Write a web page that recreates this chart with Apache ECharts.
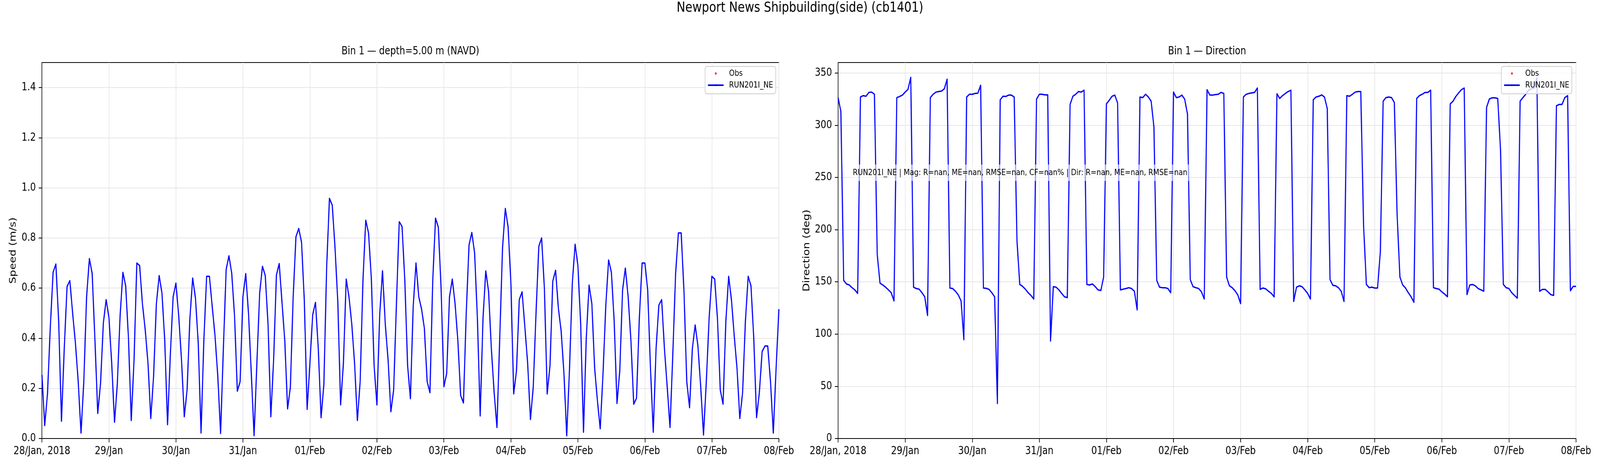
<!DOCTYPE html>
<html>
<head>
<meta charset="utf-8">
<script src="https://cdn.jsdelivr.net/npm/echarts/dist/echarts.min.js"></script>
<style>
html,body{margin:0;padding:0;background:#fff;overflow:hidden}
#c{width:5000px;height:1200px;transform-origin:0 0}
</style>
</head>
<body>
<div id="c"></div>
<script>
// ---- data (hourly samples starting 28 Jan 2018 00:00) ----
const xTickLabels = ['28/Jan, 2018','29/Jan','30/Jan','31/Jan','01/Feb','02/Feb','03/Feb','04/Feb','05/Feb','06/Feb','07/Feb','08/Feb'];
const speedTicks = [0.0, 0.2, 0.4, 0.6, 0.8, 1.0, 1.2, 1.4];
const directionTicks = [0, 50, 100, 150, 200, 250, 300, 350];
const obsSpeed = [];
const obsDirection = [];
const speed = [
0.254,0.052,0.18,0.445,0.663,0.696,0.467,0.069,0.36,0.606,0.63,0.50,0.38,0.227,0.022,0.227,0.565,0.718,0.658,0.39,0.10,0.22,0.46,0.554,
0.483,0.30,0.065,0.216,0.489,0.663,0.609,0.40,0.072,0.314,0.70,0.69,0.538,0.434,0.30,0.08,0.249,0.538,0.65,0.58,0.39,0.055,0.336,0.565,
0.62,0.489,0.314,0.087,0.194,0.478,0.64,0.56,0.38,0.022,0.39,0.647,0.647,0.527,0.41,0.249,0.02,0.36,0.675,0.729,0.658,0.489,0.189,0.227,
0.565,0.658,0.50,0.26,0.011,0.30,0.58,0.687,0.65,0.456,0.087,0.314,0.652,0.698,0.543,0.39,0.118,0.205,0.565,0.805,0.838,0.783,0.549,0.116,
0.30,0.494,0.543,0.358,0.083,0.216,0.685,0.958,0.931,0.76,0.543,0.134,0.30,0.636,0.565,0.456,0.30,0.072,0.227,0.63,0.871,0.82,0.64,0.29,
0.134,0.494,0.669,0.456,0.314,0.107,0.194,0.54,0.865,0.846,0.63,0.29,0.159,0.527,0.70,0.565,0.516,0.44,0.227,0.183,0.63,0.879,0.843,0.598,
0.207,0.26,0.565,0.636,0.538,0.39,0.172,0.142,0.50,0.772,0.822,0.74,0.478,0.09,0.478,0.669,0.587,0.358,0.183,0.044,0.40,0.76,0.918,0.843,
0.62,0.178,0.27,0.554,0.585,0.445,0.30,0.076,0.205,0.50,0.767,0.80,0.598,0.178,0.29,0.628,0.671,0.52,0.429,0.26,0.011,0.28,0.62,0.775,
0.69,0.456,0.025,0.40,0.612,0.538,0.28,0.15,0.039,0.26,0.532,0.712,0.663,0.467,0.14,0.27,0.592,0.68,0.565,0.39,0.137,0.161,0.478,0.70,
0.70,0.592,0.28,0.025,0.358,0.532,0.554,0.358,0.205,0.044,0.336,0.658,0.82,0.82,0.587,0.227,0.123,0.358,0.453,0.369,0.205,0.014,0.227,0.478,
0.647,0.636,0.478,0.194,0.137,0.467,0.647,0.554,0.41,0.28,0.08,0.183,0.467,0.647,0.609,0.40,0.083,0.183,0.347,0.369,0.369,0.227,0.022,0.28,
0.516
];
const direction = [
326.4,313,151.4,148,147,144.4,142.3,138.9,327,328.3,327.7,331.4,331.7,329.6,176.3,148.8,147,144.9,142.3,139.6,131.8,326.4,327.5,328.8,
331.7,334.3,345.8,144.9,143.6,143,139.6,135.7,117.9,326.4,329.6,331.7,332.2,332.7,334.8,344,144.1,143.6,141,137.5,131.8,94.6,327,329.6,
329.6,330.4,330.6,338.2,144.1,143.8,142.8,139.6,135.7,33.5,324.3,327.7,327.5,328.8,328.8,327,189.4,147.5,145.7,143,139.6,137,133.6,324.9,
329.6,329.6,329,329,93.3,145.4,144.9,142.3,138.9,135.7,134.9,319.9,327.7,329.6,332.2,331.7,333.5,147.5,147,148,145.4,142.3,141.7,154.6,
320.4,323.8,327.7,328.8,321.2,142.3,143,143.6,144.4,143.6,141,123.1,327,326.4,329.6,327,323,298.1,151.4,144.9,144.4,144.4,143.6,139.6,
331.7,326.4,327,328.8,324.9,310.7,152,145.4,144.4,143.6,140.4,133.6,334,328.8,328.8,329.3,329.6,331.4,330.4,154.6,146.2,144.4,141.5,137.5,
129.2,327,329.6,330.4,330.9,331.4,335.6,142.8,144.1,143.3,141,138.9,135.7,330.1,325.6,328.3,330.4,332.2,333.5,131.3,144.9,146.2,145.4,142.3,
138.9,133.6,324.3,327,327.7,329,327,316,152.2,146.7,146.2,144.4,141,131.3,328.3,327.7,329.6,331.7,332.2,332.2,203.8,147.5,144.4,144.9,
144.1,144.1,178.9,323,326.4,327,326.4,321.7,214.3,154.6,147,144.1,139.6,135.7,130.5,325.6,328.3,329.6,331.4,331.4,333.5,144.4,143.6,143,
140.4,138.3,135.7,320.4,323,327.5,330.9,334,335.6,137.8,147,147.5,146.2,143.6,142.3,141,317,325.1,326.2,326.2,325.6,275.9,147.5,144.4,
143.6,139.6,137,134.4,323,326.4,329.6,333.5,334.8,335.3,345.3,141,142.8,142.8,140.4,137.8,137,318.6,319.9,319.9,326.4,328.3,141.5,145.7,
145.7
];
const annotationText = 'RUN201I_NE | Mag: R=nan, ME=nan, RMSE=nan, CF=nan% | Dir: R=nan, ME=nan, RMSE=nan';

// ---- fit the 5000x1200 figure into whatever window we get ----
const FIG_W = 5000, FIG_H = 1200;
const box = document.getElementById('c');
const sx = Math.min(1, (window.innerWidth || FIG_W) / FIG_W);
const sy = Math.min(1, (window.innerHeight || FIG_H) / FIG_H);
box.style.transform = 'scale(' + sx + ',' + sy + ')';

// ---- chart ----
const FONT = '"DejaVu Sans", sans-serif';
const HOURS_PER_DAY = 24;
const toXY = arr => arr.map((v, i) => [i, v]);
const gridLine = { color: '#e6e6e6', width: 2 };

function makeX(gi) {
  return {
    gridIndex: gi, type: 'value', min: 0, max: (xTickLabels.length - 1) * HOURS_PER_DAY, interval: HOURS_PER_DAY,
    axisLine: { show: true, onZero: false, lineStyle: { color: '#000', width: 2 } },
    axisTick: { show: true, inside: false, length: 10, lineStyle: { color: '#000', width: 2 } },
    axisLabel: { margin: 19, fontFamily: FONT, fontSize: 28, color: '#000', showMinLabel: true, showMaxLabel: true,
      formatter: v => xTickLabels[Math.round(v / HOURS_PER_DAY)] },
    splitLine: { show: true, lineStyle: gridLine }
  };
}
function makeY(gi, min, max, interval, ticks, name, gap, digits) {
  return {
    gridIndex: gi, type: 'value', min: min, max: max, interval: interval,
    name: name, nameLocation: 'middle', nameGap: gap, nameRotate: 90,
    nameTextStyle: { fontFamily: FONT, fontSize: 28, color: '#000' },
    axisLine: { show: true, onZero: false, lineStyle: { color: '#000', width: 2 } },
    axisTick: { show: true, inside: false, length: 10, lineStyle: { color: '#000', width: 2 }, customValues: ticks },
    axisLabel: { margin: 19, fontFamily: FONT, fontSize: 28, color: '#000', customValues: ticks,
      formatter: v => Number(v).toFixed(digits) },
    splitLine: { show: true, lineStyle: gridLine }
  };
}
function makeLegend(rightPx) {
  return {
    orient: 'vertical', right: rightPx, top: 170,
    data: [
      { name: 'Obs', icon: 'circle', itemStyle: { color: '#ff0000' } },
      { name: 'RUN201I_NE', lineStyle: { width: 4, color: '#0000ff' } }
    ],
    itemWidth: 49, itemHeight: 6, itemGap: 8,
    textStyle: { fontFamily: FONT, fontSize: 22, color: '#000', lineHeight: 22, padding: [0, 0, 0, 12] },
    backgroundColor: 'rgba(255,255,255,0.8)', borderColor: '#cccccc', borderWidth: 2, borderRadius: 6,
    padding: [7, 8, 11, 7], selectedMode: false
  };
}
const lineSeries = (xi, data) => ({
  name: 'RUN201I_NE', type: 'line', xAxisIndex: xi, yAxisIndex: xi, data: toXY(data),
  showSymbol: false, symbol: 'none', lineStyle: { color: '#0000ff', width: 3.5, join: 'round' },
  itemStyle: { color: '#0000ff' }, z: 3
});
const obsSeries = (xi, data) => ({
  name: 'Obs', type: 'scatter', xAxisIndex: xi, yAxisIndex: xi, data: toXY(data),
  symbolSize: 6, itemStyle: { color: '#ff0000' }, z: 4
});

const option = {
  animation: false,
  backgroundColor: '#ffffff',
  title: [
    { text: 'Newport News Shipbuilding(side) (cb1401)', left: 2500, top: 3, textAlign: 'center', padding: 0,
      textStyle: { fontFamily: FONT, fontSize: 36, fontWeight: 'normal', color: '#000' } },
    { text: 'Bin 1 \u2014 depth=5.00 m (NAVD)', left: 1282.5, top: 118, textAlign: 'center', padding: 0,
      textStyle: { fontFamily: FONT, fontSize: 28, fontWeight: 'normal', color: '#000' } },
    { text: 'Bin 1 \u2014 Direction', left: 3772, top: 118, textAlign: 'center', padding: 0,
      textStyle: { fontFamily: FONT, fontSize: 28, fontWeight: 'normal', color: '#000' } }
  ],
  grid: [
    { left: 131, top: 160, width: 2303, height: 962, show: true, borderColor: '#000', borderWidth: 2, backgroundColor: 'transparent' },
    { left: 2619, top: 160, width: 2306, height: 962, show: true, borderColor: '#000', borderWidth: 2, backgroundColor: 'transparent' }
  ],
  xAxis: [makeX(0), makeX(1)],
  yAxis: [
    makeY(0, 0, 1.5, 0.2, speedTicks, 'Speed (m/s)', 75, 1),
    makeY(1, 0, 360, 50, directionTicks, 'Direction (deg)', 83, 0)
  ],
  legend: [makeLegend(FIG_W - 2424), makeLegend(FIG_W - 4912)],
  graphic: [
    { type: 'text', left: 2660, top: 421, z: 100,
      style: { text: annotationText, font: '22px "DejaVu Sans"', fill: '#000',
        backgroundColor: 'rgba(255,255,255,0.6)', padding: [10, 5, 10, 5] } }
  ],
  series: [
    obsSeries(0, obsSpeed), lineSeries(0, speed),
    obsSeries(1, obsDirection), lineSeries(1, direction)
  ]
};
const chart = echarts.init(box, null, { renderer: 'canvas', width: FIG_W, height: FIG_H, devicePixelRatio: 1 });
chart.setOption(option);
</script>
</body>
</html>
